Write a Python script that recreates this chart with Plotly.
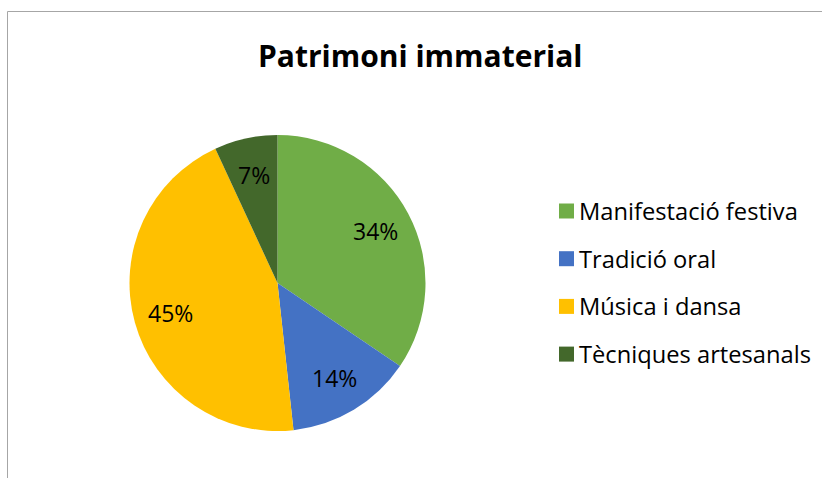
import math
import plotly.graph_objects as go

categories = ["Manifestació festiva", "Tradició oral", "Música i dansa", "Tècniques artesanals"]
counts = [10, 4, 13, 2]
colors = ["#70AD47", "#4472C4", "#FFC000", "#43682B"]
title_text = "Patrimoni immaterial"

W, H = 822, 478
cx, cy, r = 277.5, 283, 148

fig = go.Figure(go.Pie(
    labels=categories,
    values=counts,
    sort=False,
    direction="clockwise",
    rotation=0,
    marker=dict(colors=colors, line=dict(width=0)),
    textinfo="none",
    domain=dict(x=[(cx - r) / W, (cx + r) / W], y=[1 - (cy + r) / H, 1 - (cy - r) / H]),
    showlegend=False,
    hoverinfo="label+percent",
))

shapes = [dict(type="rect", xref="paper", yref="paper",
               x0=7.5 / W, x1=1.2, y0=-0.2, y1=1 - 11.5 / H,
               line=dict(color="#A6A6A6", width=1), fillcolor="rgba(0,0,0,0)")]
annotations = [dict(text="<b>" + title_text + "</b>", xref="paper", yref="paper",
                    x=420 / W, y=1 - 56 / H, xanchor="center", yanchor="middle",
                    showarrow=False, font=dict(family="Open Sans", size=30, color="#000000"))]

# data labels (percentages) placed along each slice's bisector, Excel style
total = sum(counts)
cum = 0
for v in counts:
    mid = (cum + v / 2) / total * 2 * math.pi
    cum += v
    lx = cx + 0.75 * r * math.sin(mid)
    ly = cy - 0.75 * r * math.cos(mid)
    annotations.append(dict(text=f"{round(100 * v / total)}%", xref="paper", yref="paper",
                            x=lx / W, y=1 - ly / H, xanchor="center", yanchor="middle",
                            showarrow=False,
                            font=dict(family="Open Sans", size=23, color="#000000")))

leg_x, leg_y0, leg_dy, sq = 559, 211, 47.7, 15
for i, (cat, col) in enumerate(zip(categories, colors)):
    yc = leg_y0 + i * leg_dy
    shapes.append(dict(type="rect", xref="paper", yref="paper",
                       x0=leg_x / W, x1=(leg_x + sq) / W,
                       y0=1 - (yc + sq / 2) / H, y1=1 - (yc - sq / 2) / H,
                       line=dict(width=0), fillcolor=col))
    annotations.append(dict(text=cat, xref="paper", yref="paper",
                            x=(leg_x + sq + 3) / W, y=1 - yc / H,
                            xanchor="left", yanchor="middle", showarrow=False,
                            font=dict(family="Open Sans", size=23.7, color="#000000")))

fig.update_layout(
    width=W, height=H,
    margin=dict(l=0, r=0, t=0, b=0),
    paper_bgcolor="#FFFFFF",
    plot_bgcolor="#FFFFFF",
    shapes=shapes,
    annotations=annotations,
)

fig.write_html("out.html", config={"displayModeBar": False},
               post_script="document.body.style.margin='0';")
